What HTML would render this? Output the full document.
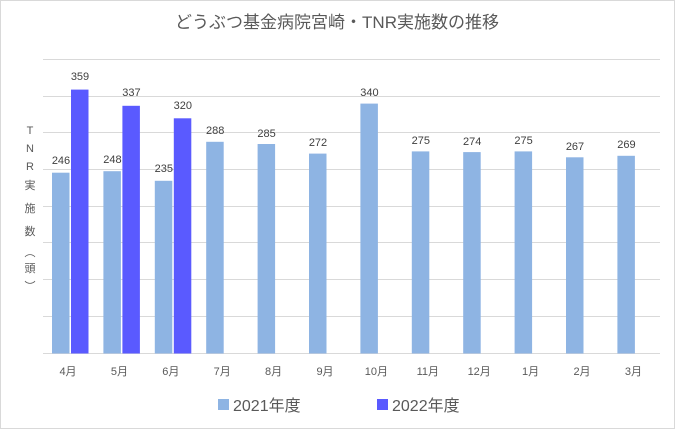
<!DOCTYPE html><html><head><meta charset="utf-8"><style>
body{margin:0;background:#fff}
svg text{font-family:"Liberation Sans","Noto Sans CJK JP",sans-serif}
</style></head><body>
<svg width="675" height="429" viewBox="0 0 675 429" xmlns="http://www.w3.org/2000/svg">
<rect x="0.5" y="0.5" width="674" height="428" fill="#fff" stroke="#d9d9d9"/>
<text x="337" y="28" font-size="17" fill="#595959" text-anchor="middle">どうぶつ基金病院宮崎・TNR実施数の推移</text>
<g stroke="#d9d9d9" stroke-width="1">
<line x1="43" x2="660" y1="59.5" y2="59.5"/><line x1="43" x2="660" y1="96.5" y2="96.5"/>
<line x1="43" x2="660" y1="132.5" y2="132.5"/><line x1="43" x2="660" y1="169.5" y2="169.5"/>
<line x1="43" x2="660" y1="206.5" y2="206.5"/><line x1="43" x2="660" y1="242.5" y2="242.5"/>
<line x1="43" x2="660" y1="279.5" y2="279.5"/><line x1="43" x2="660" y1="316.5" y2="316.5"/>
<line x1="43" x2="660" y1="353.5" y2="353.5"/>
</g>
<g font-size="11" fill="#595959" text-anchor="middle">
<text x="30" y="134">T</text><text x="30" y="152">N</text><text x="30" y="170">R</text>
<text x="30" y="189">実</text><text x="30" y="212">施</text><text x="30" y="235">数</text>
<text x="30" y="256">︵</text><text x="30" y="272">頭</text><text x="30" y="290">︶</text>
</g>
<g fill="#8eb4e3">
<rect x="52" y="172.7" width="17.5" height="180.8"/>
<rect x="103.4" y="171.2" width="17.5" height="182.3"/>
<rect x="154.8" y="180.8" width="17.5" height="172.7"/>
<rect x="206.2" y="141.8" width="17.5" height="211.7"/>
<rect x="257.6" y="144" width="17.5" height="209.5"/>
<rect x="309" y="153.6" width="17.5" height="199.9"/>
<rect x="360.4" y="103.6" width="17.5" height="249.9"/>
<rect x="411.8" y="151.4" width="17.5" height="202.1"/>
<rect x="463.2" y="152.1" width="17.5" height="201.4"/>
<rect x="514.6" y="151.4" width="17.5" height="202.1"/>
<rect x="566" y="157.3" width="17.5" height="196.2"/>
<rect x="617.4" y="155.8" width="17.5" height="197.7"/>
</g>
<g fill="#5a5aff">
<rect x="71" y="89.6" width="17.5" height="263.9"/>
<rect x="122.4" y="105.8" width="17.5" height="247.7"/>
<rect x="173.8" y="118.3" width="17.5" height="235.2"/>
</g>
<g font-size="11" fill="#404040" text-anchor="middle">
<text x="61" y="164">246</text><text x="112.4" y="163">248</text><text x="163.8" y="172">235</text>
<text x="215.2" y="134">288</text><text x="266.6" y="137">285</text><text x="318" y="146">272</text>
<text x="369.4" y="96">340</text><text x="420.8" y="144">275</text><text x="472.2" y="145">274</text>
<text x="523.6" y="144">275</text><text x="575" y="150">267</text><text x="626.4" y="148">269</text>
<text x="80" y="80">359</text><text x="131.4" y="96">337</text><text x="182.8" y="109">320</text>
</g>
<g font-size="11" fill="#595959" text-anchor="middle">
<text x="68" y="375">4月</text><text x="119.4" y="375">5月</text><text x="170.8" y="375">6月</text>
<text x="222.2" y="375">7月</text><text x="273.6" y="375">8月</text><text x="325" y="375">9月</text>
<text x="376.4" y="375">10月</text><text x="427.8" y="375">11月</text><text x="479.2" y="375">12月</text>
<text x="530.6" y="375">1月</text><text x="582" y="375">2月</text><text x="633.4" y="375">3月</text>
</g>
<g font-size="16" fill="#595959">
<rect x="218" y="399" width="11" height="11" fill="#8eb4e3"/><text x="233" y="411">2021年度</text>
<rect x="377" y="399" width="11" height="11" fill="#5a5aff"/><text x="392" y="411">2022年度</text>
</g>
</svg>
</body></html>
